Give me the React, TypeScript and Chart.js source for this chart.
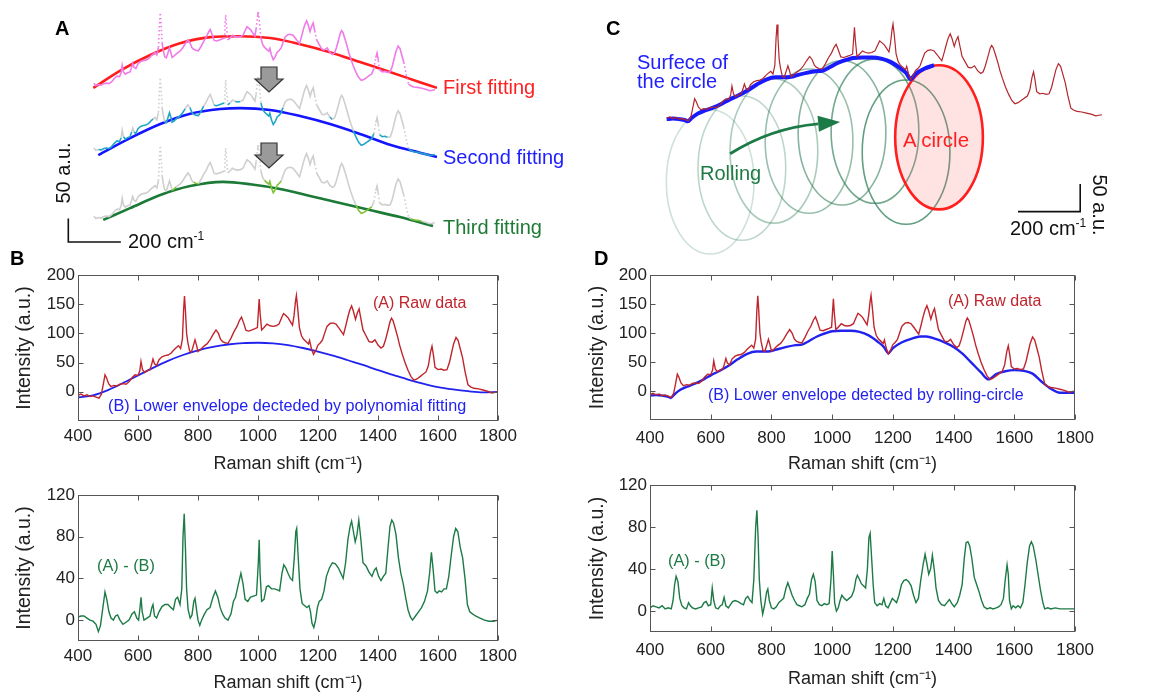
import React, { useEffect, useRef } from 'react';
import { Chart, registerables } from 'chart.js';
Chart.register(...registerables);

const FONT = '"Liberation Sans", Arial, Helvetica, sans-serif';

// ---------------- DATA ----------------
const X_TICKS = [400, 600, 800, 1000, 1200, 1400, 1600, 1800];
const Y_TICKS_RAW = [0, 50, 100, 150, 200];
const Y_TICKS_DIFF = [0, 40, 80, 120];

// raw Raman spectrum (A)
const RAW_SHIFT = [400,410,420,430,440,450,460,470,478,485,490,495,502,510,520,530,540,550,560,570,580,590,600,606,610,615,622,630,640,646,650,655,662,670,680,690,700,710,720,728,735,742,748,752,755,758,762,766,772,778,785,790,795,800,808,815,822,830,840,850,860,868,875,882,890,900,910,920,930,938,945,952,960,970,980,990,998,1001,1004,1007,1012,1020,1030,1040,1050,1060,1070,1078,1085,1092,1100,1108,1115,1120,1125,1128,1132,1138,1145,1152,1160,1168,1172,1178,1185,1192,1200,1208,1215,1222,1230,1240,1250,1260,1270,1278,1285,1292,1300,1306,1312,1318,1325,1331,1337,1343,1350,1360,1370,1380,1390,1400,1410,1418,1425,1433,1440,1445,1450,1458,1465,1472,1480,1490,1500,1510,1520,1530,1540,1550,1560,1568,1575,1580,1585,1590,1600,1610,1620,1630,1638,1645,1652,1660,1667,1675,1682,1690,1700,1710,1720,1735,1750,1765,1780,1790,1800];
const RAW_INTENSITY = [-6,-4,-7,-5,-8,-7,-9,-11,-4,15,29,24,14,9,11,10,13,14,13,17,24,29,28,36,52,38,33,36,38,48,56,48,45,55,60,62,63,66,72,76,79,74,90,140,164,140,100,85,70,68,80,89,80,69,72,76,79,82,89,98,106,100,90,86,84,83,92,103,112,122,128,118,105,104,106,108,110,135,159,135,106,110,116,113,112,113,116,126,134,131,127,120,114,130,155,165,145,110,96,90,86,82,88,74,64,70,80,84,89,100,112,117,118,116,109,103,98,112,129,140,147,138,124,135,142,125,106,96,86,85,89,80,75,78,89,105,120,126,122,108,95,80,66,50,37,26,20,22,26,30,34,45,68,78,62,42,38,39,37,38,50,66,82,93,88,72,58,35,12,8,6,5,3,1,-2,-1,0];

// lower envelope by polynomial fitting (B)
const POLY_SHIFT = [400,450,500,550,600,650,700,750,800,850,900,950,1000,1050,1100,1150,1200,1250,1300,1350,1400,1450,1500,1550,1600,1650,1700,1750,1800];
const POLY_ENV = [-10,-6,3,15,28,41,53,63,71,77,81,83.5,84,83,80,75,69,62,54,46,37,29,21,14,8,4,1,-1,0];

// lower envelope by rolling circle (D)
const ROLL_SHIFT = [400,420,440,460,468,480,500,520,550,580,600,630,660,690,720,750,780,800,820,850,880,900,920,950,980,1000,1030,1060,1090,1120,1150,1170,1185,1200,1230,1260,1290,1310,1340,1370,1400,1430,1460,1490,1515,1540,1570,1600,1630,1660,1690,1720,1750,1780,1800];
const ROLL_ENV = [-8,-7,-8,-10,-12,-6,2,7,13,21,27,35,44,55,64,68,68,69,72,76,79,80,85,94,100,103,104,104,102,96,85,76,65,74,84,90,94,94,90,84,76,64,48,32,20,29,34,36,35,30,16,4,-3,-3,-3];

// (A) - (B), polynomial
const DIFF_POLY_SHIFT = [400,410,420,430,440,450,460,468,475,482,490,496,503,510,518,525,532,540,550,560,570,580,588,596,602,606,610,614,620,630,640,646,650,655,662,670,680,690,700,710,718,725,732,740,746,750,754,758,762,767,774,780,786,790,795,800,806,812,820,830,840,850,858,866,874,882,890,900,910,918,925,935,943,950,957,966,975,985,995,1001,1004,1007,1012,1020,1028,1035,1045,1055,1065,1072,1080,1086,1093,1100,1108,1115,1121,1126,1129,1134,1140,1147,1155,1163,1170,1175,1180,1186,1192,1198,1204,1212,1220,1228,1238,1248,1258,1268,1276,1284,1292,1300,1307,1312,1318,1324,1330,1336,1342,1350,1360,1370,1380,1388,1394,1402,1410,1418,1426,1433,1440,1446,1452,1460,1468,1476,1484,1492,1500,1508,1515,1525,1535,1545,1555,1565,1572,1578,1584,1590,1597,1604,1612,1620,1628,1636,1644,1652,1659,1666,1674,1682,1690,1698,1706,1715,1725,1740,1755,1770,1785,1800];
const DIFF_POLY = [3,4,4,2,0,-1,-4,-11,-5,10,27,20,8,2,0,4,5,0,-4,-2,0,6,8,2,0,10,22,8,0,2,4,12,15,4,2,8,13,15,15,12,10,20,22,15,30,80,102,70,30,10,2,5,18,21,10,0,-5,0,5,10,12,22,28,22,12,6,2,0,6,18,22,35,45,35,20,18,22,23,24,55,77,45,18,20,32,33,30,30,29,28,45,53,50,45,40,38,60,85,88,60,30,16,14,12,14,8,-3,-7,0,12,18,20,28,42,50,55,54,50,45,40,55,78,90,95,85,75,82,96,80,55,52,46,42,48,50,42,38,42,45,68,90,96,93,82,60,45,35,22,10,3,0,4,8,12,18,28,45,65,48,28,26,28,27,30,30,42,62,80,88,85,70,60,40,15,8,6,4,2,0,-1,-1,0];

// (A) - (B), rolling circle
const DIFF_ROLL_SHIFT = [400,410,420,430,440,450,460,470,476,481,486,492,498,505,512,520,527,533,540,550,560,570,578,585,592,600,605,610,616,624,632,638,644,650,658,665,672,680,690,700,708,715,722,730,736,742,748,752,756,760,765,771,777,784,788,793,800,808,816,824,832,840,848,854,860,868,876,884,892,900,910,918,925,932,938,944,950,958,966,974,982,990,996,1000,1004,1008,1014,1020,1026,1032,1040,1048,1056,1064,1072,1078,1083,1090,1096,1103,1110,1116,1121,1125,1130,1135,1140,1148,1156,1164,1170,1176,1184,1192,1198,1205,1212,1220,1228,1236,1244,1252,1260,1268,1276,1284,1292,1300,1306,1312,1318,1324,1330,1336,1342,1350,1360,1370,1378,1386,1394,1402,1412,1420,1428,1435,1441,1447,1453,1460,1468,1476,1484,1492,1500,1510,1520,1530,1540,1548,1556,1564,1570,1576,1580,1584,1590,1596,1604,1612,1620,1628,1635,1642,1650,1656,1662,1670,1678,1686,1694,1700,1710,1720,1735,1750,1765,1780,1800];
const DIFF_ROLL = [3,5,4,3,5,2,3,2,10,25,33,28,12,5,3,2,8,5,3,2,3,4,8,9,5,6,22,10,3,2,5,6,13,5,3,6,9,10,9,7,6,12,14,10,8,30,80,96,70,30,10,-3,5,18,21,10,3,2,4,8,10,12,22,27,22,15,10,6,5,4,6,12,16,30,35,28,10,6,5,7,6,7,30,57,35,8,0,3,10,15,12,10,12,14,20,30,34,30,26,24,22,40,70,74,50,25,8,5,7,6,12,5,3,8,12,10,8,15,25,29,30,28,24,15,8,12,30,45,54,45,35,40,53,40,22,10,6,5,8,11,7,4,8,15,25,50,65,66,62,50,32,25,18,10,4,2,3,2,3,4,6,12,30,44,35,10,2,5,3,5,3,8,25,45,62,66,62,50,35,20,8,2,3,2,3,2,2,2,2];

// Panel A: successive polynomial fits (in a.u., before stacking offsets)
const A_FIT1_SHIFT = [500,606,717,830,945,1059,1173,1287,1401,1515,1629,1743,1808];
const A_FIT1 = [4,42,74,99,112,114,110,97,80,59,38,16,4];
const A_FIT2_SHIFT = [519,640,755,869,983,1059,1173,1287,1401,1515,1629,1743,1808];
const A_FIT2 = [-1,35,65,87,97,99,95,82,65,44,21,4,-5];
const A_FIT3_SHIFT = [538,640,755,869,994,1097,1211,1325,1439,1553,1667,1793];
const A_FIT3 = [6,31,59,78,87,82,72,57,42,27,12,-7];
const A_STACK_OFFSETS = [0, -138, -283];
const A_START_SHIFT = 500;

// Panel C: rolling circle centres (cm-1, a.u.) and radii
const C_CIRCLE_SHIFT = [540, 642, 745, 858, 964, 1070, 1170];
const C_CIRCLE_INT = [-122, -97, -66, -48, -33, -30, -68];
const C_RED_CIRCLE = [1276, -41];
const C_RADIUS = [141, 131];
const C_SURFACE_END = 1280;

// ---------------- HELPERS ----------------
const pts = (xs: number[], ys: number[], off = 0) => xs.map((x, i) => ({ x, y: ys[i] + off }));
function lerp(xs: number[], ys: number[], x: number) {
  if (x <= xs[0]) return ys[0];
  for (let i = 1; i < xs.length; i++) {
    if (x <= xs[i]) {
      const t = (x - xs[i - 1]) / (xs[i] - xs[i - 1]);
      return ys[i - 1] + t * (ys[i] - ys[i - 1]);
    }
  }
  return ys[ys.length - 1];
}

const framePlugin = {
  id: 'frameTicks',
  afterDraw(chart: any) {
    const { ctx, chartArea: a, scales } = chart;
    ctx.save();
    ctx.strokeStyle = '#555';
    ctx.lineWidth = 1;
    const L = Math.round(a.left) + 0.5, R = Math.round(a.right) - 0.5;
    const T = Math.round(a.top) + 0.5, B = Math.round(a.bottom) - 0.5;
    ctx.strokeRect(L, T, R - L, B - T);
    const tl = 5;
    ctx.beginPath();
    scales.x.ticks.forEach((t: any) => {
      const px = Math.round(scales.x.getPixelForValue(t.value)) + 0.5;
      ctx.moveTo(px, B); ctx.lineTo(px, B - tl);
      ctx.moveTo(px, T); ctx.lineTo(px, T + tl);
    });
    scales.y.ticks.forEach((t: any) => {
      const py = Math.round(scales.y.getPixelForValue(t.value)) + 0.5;
      ctx.moveTo(L, py); ctx.lineTo(L + tl, py);
      ctx.moveTo(R, py); ctx.lineTo(R - tl, py);
    });
    ctx.stroke();
    ctx.restore();
  },
};

function axisConfig(o: {
  datasets: any[]; yMin: number; yMax: number; yTicks: number[]; yWidth: number; yTitlePad: number; xHeight: number; xPad: number;
}) {
  const tickFont = { family: FONT, size: 17 };
  return {
    type: 'line',
    data: { datasets: o.datasets },
    plugins: [framePlugin],
    options: {
      animation: false,
      responsive: false,
      layout: { padding: { top: 15, right: 25, left: 0, bottom: 0 } },
      plugins: { legend: { display: false }, tooltip: { enabled: false } },
      elements: { point: { radius: 0 } },
      scales: {
        x: {
          type: 'linear', min: 400, max: 1800,
          afterBuildTicks: (s: any) => { s.ticks = X_TICKS.map((v) => ({ value: v })); },
          afterFit: (s: any) => { s.height = o.xHeight; },
          grid: { display: false, drawTicks: false },
          border: { display: false },
          ticks: { font: tickFont, color: '#222', padding: o.xPad, maxRotation: 0, autoSkip: false, callback: (v: any) => String(v) },
          title: { display: true, text: 'Raman shift (cm⁻¹)', font: { family: FONT, size: 18 }, color: '#222', padding: { top: 0, bottom: 0 } },
        },
        y: {
          type: 'linear', min: o.yMin, max: o.yMax,
          afterBuildTicks: (s: any) => { s.ticks = o.yTicks.map((v) => ({ value: v })); },
          afterFit: (s: any) => { s.width = o.yWidth; },
          grid: { display: false, drawTicks: false },
          border: { display: false },
          ticks: { font: tickFont, color: '#222', padding: 3, callback: (v: any) => String(v) },
          title: { display: true, text: 'Intensity (a.u.)', font: { family: FONT, size: 19.5 }, color: '#222', padding: { top: o.yTitlePad, bottom: 0 } },
        },
      },
    },
  };
}

const RAW_COLOR = '#c0252d';
const BLUE = '#2222ee';
const GREEN = '#1c7a45';

const rawDataset = () => ({ data: pts(RAW_SHIFT, RAW_INTENSITY), borderColor: RAW_COLOR, borderWidth: 1.4, pointRadius: 0 });

// ---------------- PANEL A ----------------
const aRaw = pts(RAW_SHIFT, RAW_INTENSITY).filter((p) => p.x >= A_START_SHIFT);
function steep(c: any) {
  const dy = Math.abs(c.p1.y - c.p0.y), dx = Math.abs(c.p1.x - c.p0.x);
  return dy > 8 && dy > 4 * dx;
}
function aGroup(off: number, base: string, hi: string | null, fx: number[] | null, fy: number[] | null) {
  return {
    data: aRaw.map((p) => ({ x: p.x, y: p.y + off })),
    borderColor: base, borderWidth: 1.6, pointRadius: 0,
    segment: {
      borderColor: (c: any) => {
        if (!fx || !fy || !hi) return base;
        const a = aRaw[c.p0DataIndex], b = aRaw[c.p1DataIndex];
        return a.y < lerp(fx, fy, a.x) && b.y < lerp(fx, fy, b.x) ? hi : base;
      },
      borderDash: (c: any) => (steep(c) ? [1.5, 2.5] : undefined),
    },
  };
}
const aDecor = {
  id: 'aDecor',
  afterDatasetsDraw(chart: any) {
    const { ctx, scales } = chart;
    ctx.save();
    // grey down arrows
    [67, 143].forEach((top) => {
      const cx = 202;
      ctx.beginPath();
      ctx.moveTo(cx - 8, top); ctx.lineTo(cx + 8, top); ctx.lineTo(cx + 8, top + 12);
      ctx.lineTo(cx + 14, top + 12); ctx.lineTo(cx, top + 25); ctx.lineTo(cx - 14, top + 12);
      ctx.lineTo(cx - 8, top + 12); ctx.closePath();
      ctx.fillStyle = '#9a9a9a'; ctx.fill();
      ctx.strokeStyle = '#333'; ctx.lineWidth = 1.2; ctx.stroke();
    });
    // scale bar 200 cm-1 / 50 a.u.
    const x0 = scales.x.getPixelForValue(405), x1 = scales.x.getPixelForValue(605);
    const y0 = scales.y.getPixelForValue(-324), y1 = scales.y.getPixelForValue(-274);
    ctx.strokeStyle = '#111'; ctx.lineWidth = 1.6;
    ctx.beginPath(); ctx.moveTo(x0, y1); ctx.lineTo(x0, y0); ctx.lineTo(x1, y0); ctx.stroke();
    ctx.restore();
  },
};
function configA() {
  const fit = (xs: number[], ys: number[], off: number, color: string) => ({
    data: pts(xs, ys, off), borderColor: color, borderWidth: 2.6, pointRadius: 0, cubicInterpolationMode: 'monotone',
  });
  return {
    type: 'line',
    data: {
      datasets: [
        aGroup(A_STACK_OFFSETS[0], '#f07ae8', null, null, null),
        aGroup(A_STACK_OFFSETS[1], '#cfcfcf', '#22a6c8', A_FIT1_SHIFT, A_FIT1),
        aGroup(A_STACK_OFFSETS[2], '#cfcfcf', '#7cc232', A_FIT2_SHIFT, A_FIT2),
        fit(A_FIT1_SHIFT, A_FIT1, A_STACK_OFFSETS[0], '#ff1c1c'),
        fit(A_FIT2_SHIFT, A_FIT2, A_STACK_OFFSETS[1], '#1414ff'),
        fit(A_FIT3_SHIFT, A_FIT3, A_STACK_OFFSETS[2], '#1b7a36'),
      ],
    },
    plugins: [aDecor],
    options: {
      animation: false, responsive: false,
      layout: { padding: 0 },
      plugins: { legend: { display: false }, tooltip: { enabled: false } },
      scales: {
        x: { type: 'linear', min: 400, max: 1850, display: false },
        y: { type: 'linear', min: -341, max: 191, display: false },
      },
    },
  };
}

// ---------------- PANEL C ----------------
const cDecor = {
  id: 'cDecor',
  beforeDatasetsDraw(chart: any) {
    const { ctx, scales } = chart;
    const sx = scales.x, sy = scales.y;
    const rx = Math.abs(sx.getPixelForValue(C_RADIUS[0]) - sx.getPixelForValue(0));
    const ry = Math.abs(sy.getPixelForValue(C_RADIUS[1]) - sy.getPixelForValue(0));
    ctx.save();
    C_CIRCLE_SHIFT.forEach((cx, i) => {
      const alpha = 0.22 + (0.5 * i) / (C_CIRCLE_SHIFT.length - 1);
      ctx.beginPath();
      ctx.ellipse(sx.getPixelForValue(cx), sy.getPixelForValue(C_CIRCLE_INT[i]), rx, ry, 0, 0, Math.PI * 2);
      ctx.strokeStyle = `rgba(38,120,80,${alpha})`;
      ctx.lineWidth = 1.6;
      ctx.stroke();
    });
    ctx.beginPath();
    ctx.ellipse(sx.getPixelForValue(C_RED_CIRCLE[0]), sy.getPixelForValue(C_RED_CIRCLE[1]), rx, ry, 0, 0, Math.PI * 2);
    ctx.fillStyle = 'rgba(255,90,90,0.17)';
    ctx.fill();
    ctx.strokeStyle = '#ff1f1f';
    ctx.lineWidth = 2.6;
    ctx.stroke();
    ctx.restore();
  },
  afterDatasetsDraw(chart: any) {
    const { ctx, scales } = chart;
    const sx = scales.x, sy = scales.y;
    ctx.save();
    // rolling arrow
    const p0 = [sx.getPixelForValue(604), sy.getPixelForValue(-71)];
    const pc = [sx.getPixelForValue(735), sy.getPixelForValue(-24)];
    const p1 = [sx.getPixelForValue(958), sy.getPixelForValue(-13)];
    const ang = Math.atan2(p1[1] - pc[1], p1[0] - pc[0]);
    const hl = 22, hw = 8;
    const bx = p1[0] - hl * Math.cos(ang), by = p1[1] - hl * Math.sin(ang);
    ctx.strokeStyle = '#1b7a45'; ctx.fillStyle = '#1b7a45'; ctx.lineWidth = 2.8;
    ctx.beginPath(); ctx.moveTo(p0[0], p0[1]); ctx.quadraticCurveTo(pc[0], pc[1], bx, by); ctx.stroke();
    ctx.beginPath();
    ctx.moveTo(p1[0], p1[1]);
    ctx.lineTo(bx + hw * Math.sin(ang), by - hw * Math.cos(ang));
    ctx.lineTo(bx - hw * Math.sin(ang), by + hw * Math.cos(ang));
    ctx.closePath(); ctx.fill();
    // scale bar
    const x0 = sx.getPixelForValue(1530), x1 = sx.getPixelForValue(1730);
    const y0 = sy.getPixelForValue(-176), y1 = sy.getPixelForValue(-126);
    ctx.strokeStyle = '#111'; ctx.lineWidth = 1.6;
    ctx.beginPath(); ctx.moveTo(x0, y0); ctx.lineTo(x1, y0); ctx.lineTo(x1, y1); ctx.stroke();
    ctx.restore();
  },
};
function configC() {
  const surfX = ROLL_SHIFT.filter((x) => x <= C_SURFACE_END);
  return {
    type: 'line',
    data: {
      datasets: [
        { data: pts(RAW_SHIFT, RAW_INTENSITY), borderColor: '#b3262c', borderWidth: 1.2, pointRadius: 0 },
        { data: pts(surfX, ROLL_ENV.slice(0, surfX.length)), borderColor: '#1a1aff', borderWidth: 4, pointRadius: 0, cubicInterpolationMode: 'monotone' },
      ],
    },
    plugins: [cDecor],
    options: {
      animation: false, responsive: false,
      layout: { padding: 0 },
      plugins: { legend: { display: false }, tooltip: { enabled: false } },
      scales: {
        x: { type: 'linear', min: 250, max: 1858, display: false },
        y: { type: 'linear', min: -264, max: 208.5, display: false },
      },
    },
  };
}

// ---------------- PANELS B / D ----------------
const configBTop = () => axisConfig({
  datasets: [rawDataset(), { data: pts(POLY_SHIFT, POLY_ENV), borderColor: BLUE, borderWidth: 1.8, pointRadius: 0, cubicInterpolationMode: 'monotone' }],
  yMin: -50, yMax: 200, yTicks: Y_TICKS_RAW, yWidth: 78, yTitlePad: 13, xHeight: 54, xPad: 5,
});
const configBBottom = () => axisConfig({
  datasets: [{ data: pts(DIFF_POLY_SHIFT, DIFF_POLY), borderColor: GREEN, borderWidth: 1.4, pointRadius: 0 }],
  yMin: -20, yMax: 120, yTicks: Y_TICKS_DIFF, yWidth: 78, yTitlePad: 13, xHeight: 53, xPad: 5,
});
const configDTop = () => axisConfig({
  datasets: [rawDataset(), { data: pts(ROLL_SHIFT, ROLL_ENV), borderColor: BLUE, borderWidth: 2.4, pointRadius: 0, cubicInterpolationMode: 'monotone' }],
  yMin: -50, yMax: 200, yTicks: Y_TICKS_RAW, yWidth: 70, yTitlePad: 6, xHeight: 55, xPad: 8,
});
const configDBottom = () => axisConfig({
  datasets: [{ data: pts(DIFF_ROLL_SHIFT, DIFF_ROLL), borderColor: GREEN, borderWidth: 1.4, pointRadius: 0 }],
  yMin: -20, yMax: 120, yTicks: Y_TICKS_DIFF, yWidth: 70, yTitlePad: 6, xHeight: 58, xPad: 8,
});

// ---------------- COMPONENTS ----------------
function ChartBox({ left, top, width, height, make }: { left: number; top: number; width: number; height: number; make: () => any }) {
  const ref = useRef<HTMLCanvasElement | null>(null);
  useEffect(() => {
    if (!ref.current) return;
    const c = new Chart(ref.current, make());
    return () => c.destroy();
  }, []);
  return <canvas ref={ref} width={width} height={height} style={{ position: 'absolute', left, top, width, height }} />;
}

function Txt({ x, y, size = 17, color = '#222', bold = false, rot = 0, center = false, children }: any) {
  return (
    <div style={{
      position: 'absolute', left: x, top: y, fontSize: size, color, fontWeight: bold ? 'bold' : 'normal',
      whiteSpace: 'nowrap', lineHeight: 1.15, fontFamily: FONT,
      transform: `translate(${center ? '-50%' : '0'},-50%) rotate(${rot}deg)`,
    }}>{children}</div>
  );
}
const Sup = ({ children }: any) => <sup style={{ fontSize: '0.6em', verticalAlign: '0.6em', lineHeight: 0 }}>{children}</sup>;

export default function App() {
  return (
    <div style={{ position: 'fixed', left: 0, top: 0, width: 1153, height: 695, background: '#fff', overflow: 'hidden', fontFamily: FONT }}>
      <ChartBox left={67} top={0} width={381} height={250} make={configA} />
      <ChartBox left={620} top={0} width={500} height={260} make={configC} />
      <ChartBox left={0} top={260} width={523} height={215} make={configBTop} />
      <ChartBox left={0} top={480} width={523} height={214} make={configBBottom} />
      <ChartBox left={580} top={260} width={522} height={215} make={configDTop} />
      <ChartBox left={580} top={470} width={522} height={220} make={configDBottom} />

      {/* panel letters */}
      <Txt x={55} y={28} size={20} bold color="#000">A</Txt>
      <Txt x={606} y={28} size={20} bold color="#000">C</Txt>
      <Txt x={10} y={258} size={20} bold color="#000">B</Txt>
      <Txt x={594} y={258} size={20} bold color="#000">D</Txt>

      {/* panel A texts */}
      <Txt x={443} y={87} size={20} color="#ff2020">First fitting</Txt>
      <Txt x={443} y={157} size={20} color="#2020ff">Second fitting</Txt>
      <Txt x={443} y={227} size={20} color="#1e7b35">Third fitting</Txt>
      <Txt x={128} y={241} size={20} color="#111">200 cm<Sup>-1</Sup></Txt>
      <Txt x={63} y={173} size={20} color="#111" rot={-90} center>50 a.u.</Txt>

      {/* panel C texts */}
      <Txt x={637} y={62} size={20} color="#2020ff">Surfece of</Txt>
      <Txt x={637} y={81} size={20} color="#2020ff">the circle</Txt>
      <Txt x={700} y={173} size={20} color="#1d7a44">Rolling</Txt>
      <Txt x={903} y={140} size={20.5} color="#ff2020">A circle</Txt>
      <Txt x={1010} y={228} size={20} color="#111">200 cm<Sup>-1</Sup></Txt>
      <Txt x={1099} y={205} size={20} color="#111" rot={90} center>50 a.u.</Txt>

      {/* in-plot labels */}
      <Txt x={373} y={303} size={16} color={RAW_COLOR}>(A) Raw data</Txt>
      <Txt x={108} y={405} size={16.2} color={BLUE}>(B) Lower envelope decteded by polynomial fitting</Txt>
      <Txt x={97} y={565} size={16.3} color={GREEN}>(A) - (B)</Txt>
      <Txt x={948} y={301} size={16} color={RAW_COLOR}>(A) Raw data</Txt>
      <Txt x={708} y={395} size={16} color={BLUE}>(B) Lower envelope detected by rolling-circle</Txt>
      <Txt x={668} y={560} size={16.3} color={GREEN}>(A) - (B)</Txt>
    </div>
  );
}
